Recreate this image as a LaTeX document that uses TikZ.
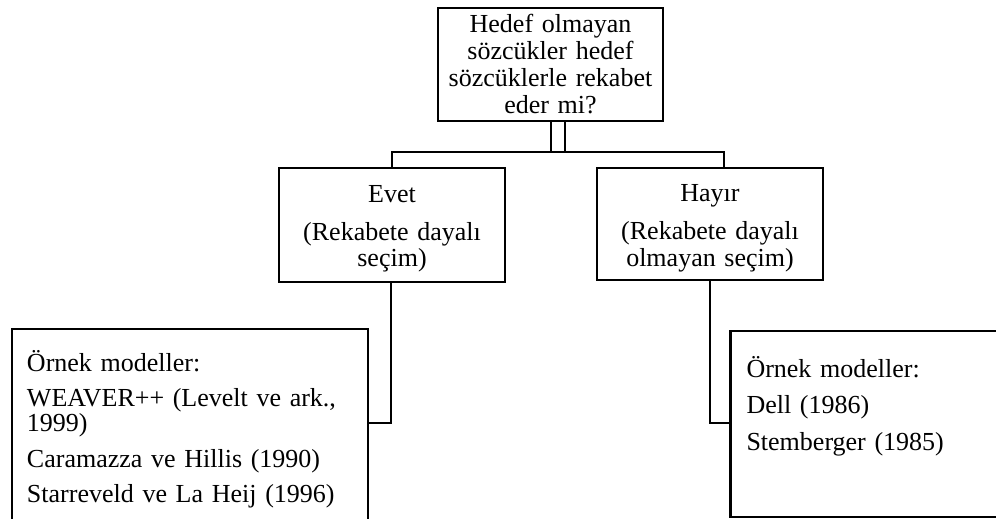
\documentclass[tikz,border=0pt]{standalone}
\usepackage{fontspec}
\setmainfont{Liberation Serif}
\begin{document}
\begin{tikzpicture}[x=1pt,y=-1pt,
  every node/.style={inner sep=0pt, outer sep=0pt},
  box/.style={draw, line width=2.2pt},
  wire/.style={line width=2.2pt},
  tight/.style={font=\fontsize{26}{26.7}\selectfont},
  listfont/.style={font=\fontsize{26}{25}\selectfont},
  widefont/.style={font=\fontsize{26}{36.5}\selectfont},
]
\clip (0,0) rectangle (996,519);

% question box
\node[box, tight, anchor=north west, text width=225pt, align=center,
      text height=25pt, text depth=88pt] (q) at (438,8)
  {Hedef olmayan\\ sözcükler hedef\\ sözcüklerle rekabet\\ eder mi?};

% answer boxes
\node[box, tight, anchor=north west, text width=226pt, align=center,
      text height=34pt, text depth=80pt] (evet) at (279,168)
  {Evet\\[11.5pt] (Rekabete dayalı\\ seçim)};
\node[box, tight, anchor=north west, text width=226pt, align=center,
      text height=33.5pt, text depth=78.5pt] (hayir) at (597,168)
  {Hayır\\[11.5pt] (Rekabete dayalı\\ olmayan seçim)};

% example model boxes
\node[box, listfont, anchor=north west, inner xsep=15pt, text width=326pt,
      align=left, text height=42pt, text depth=220pt] (left) at (12,329)
  {Örnek modeller:\\[10.5pt] WEAVER++ (Levelt ve ark.,\\ 1999)\\[10.5pt]
   Caramazza ve Hillis (1990)\\[10.5pt] Starreveld ve La Heij (1996)};
\node[box, widefont, anchor=north west, inner xsep=16pt, text width=300pt,
      align=left, text height=46pt, text depth=140pt] (right) at (730.5,331)
  {Örnek modeller:\\ Dell (1986)\\ Stemberger (1985)};

% branching connectors
\coordinate (busL) at ([yshift=16pt]evet.north);
\coordinate (busR) at ([xshift=14pt,yshift=16pt]hayir.north);
\draw[wire] (evet.north) -- (busL) -- (busR) -- (busR |- hayir.north);
\draw[wire] ([xshift=0.5pt]q.south) -- ([xshift=0.5pt]q.south |- busL);
\draw[wire] ([xshift=14.5pt]q.south) -- ([xshift=14.5pt]q.south |- busL);

% links to the example boxes
\draw[wire] ([xshift=-1pt]evet.south) |- (left.east |- 0,423);
\draw[wire] (hayir.south) |- (right.west |- 0,423);
\end{tikzpicture}
\end{document}
